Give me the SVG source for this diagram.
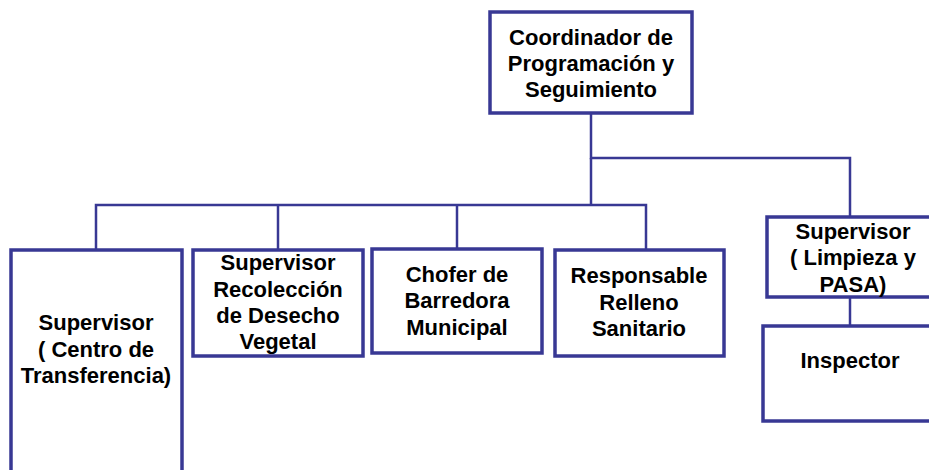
<svg xmlns="http://www.w3.org/2000/svg" width="929" height="470" viewBox="0 0 929 470">
<style>
.box{fill:#fff;stroke:#383894;stroke-width:3.5}
.ln{fill:none;stroke:#383894;stroke-width:2.5}
text{font-family:"Liberation Sans",Arial,sans-serif;font-weight:bold;font-size:22px;fill:#000;text-anchor:middle}
</style>
<rect width="929" height="470" fill="#fff"/>
<g id="connectors">
<path class="ln" d="M591 113V158H850V217"/>
<path class="ln" d="M591 158V205"/>
<path class="ln" d="M96 250V205H646V250"/>
<path class="ln" d="M278 205V250"/>
<path class="ln" d="M457 205V249"/>
<path class="ln" d="M850 297V326"/>
</g>
<g id="n-coordinador">
<rect class="box" x="490" y="12" width="202" height="101"/>
<text x="591" y="45">Coordinador de</text>
<text x="591" y="71">Programación y</text>
<text x="591" y="97">Seguimiento</text>
</g>
<g id="n-centro">
<rect class="box" x="11" y="250" width="171" height="240"/>
<text x="96" y="330">Supervisor</text>
<text x="96" y="357">( Centro de</text>
<text x="96" y="383">Transferencia)</text>
</g>
<g id="n-recoleccion">
<rect class="box" x="193" y="250" width="170" height="106"/>
<text x="278" y="270">Supervisor</text>
<text x="278" y="297">Recolección</text>
<text x="278" y="323">de Desecho</text>
<text x="278" y="349">Vegetal</text>
</g>
<g id="n-chofer">
<rect class="box" x="372" y="249" width="170" height="104"/>
<text x="457" y="282">Chofer de</text>
<text x="457" y="308">Barredora</text>
<text x="457" y="335">Municipal</text>
</g>
<g id="n-relleno">
<rect class="box" x="555" y="250" width="169" height="106"/>
<text x="639" y="283">Responsable</text>
<text x="639" y="310">Relleno</text>
<text x="639" y="336">Sanitario</text>
</g>
<g id="n-limpieza">
<rect class="box" x="767" y="217" width="175" height="80"/>
<text x="853" y="239">Supervisor</text>
<text x="853" y="265">( Limpieza y</text>
<text x="853" y="292">PASA)</text>
</g>
<g id="n-inspector">
<rect class="box" x="763" y="326" width="180" height="95"/>
<text x="850" y="368">Inspector</text>
</g>
</svg>
